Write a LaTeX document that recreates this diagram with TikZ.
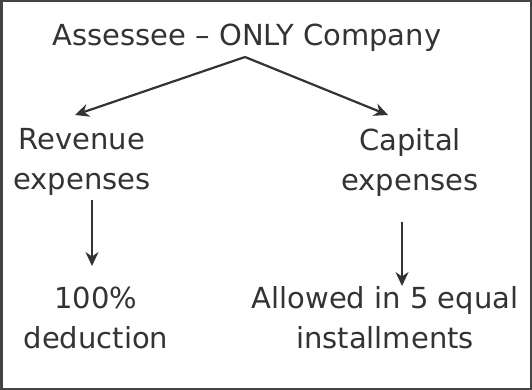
\documentclass[tikz,border=0pt]{standalone}
\usepackage{fontspec}
\setmainfont{DejaVu Sans}
\usetikzlibrary{arrows.meta}
\definecolor{ink}{HTML}{333333}
\definecolor{frame}{HTML}{444444}
\begin{document}
\begin{tikzpicture}[x=1pt,y=-1pt,
  lbl/.style={text=ink,font=\fontsize{29}{40}\selectfont,align=center,inner sep=0pt},
  arr/.style={draw=ink,line width=2.2pt,-{Stealth[length=14pt,width=13pt]}}]
\useasboundingbox (0,0) rectangle (532,390);
\draw[frame,line width=2.5pt] (1.25,1.25) rectangle (530.75,388.75);
\node[lbl] (top) at (247,38) {Assessee – ONLY Company};
\coordinate (split) at (245,57);
\node[lbl] (rev) at (82,162) {Revenue\\expenses};
\node[lbl] (cap) at (410,162) {Capital\\expenses};
\node[lbl] (ded) at (96,318) {100\%\\deduction};
\node[lbl] (inst) at (385,318) {Allowed in 5 equal\\installments};
\coordinate (revtip) at (75,115);
\coordinate (captip) at (388,115);
\draw[arr] (split) -- (revtip);
\draw[arr] (split) -- (captip);
\coordinate (r1) at (92,200);
\coordinate (r2) at (92,266);
\coordinate (c1) at (402,222);
\coordinate (c2) at (402,286);
\draw[arr] (r1) -- (r2);
\draw[arr] (c1) -- (c2);
\end{tikzpicture}
\end{document}
